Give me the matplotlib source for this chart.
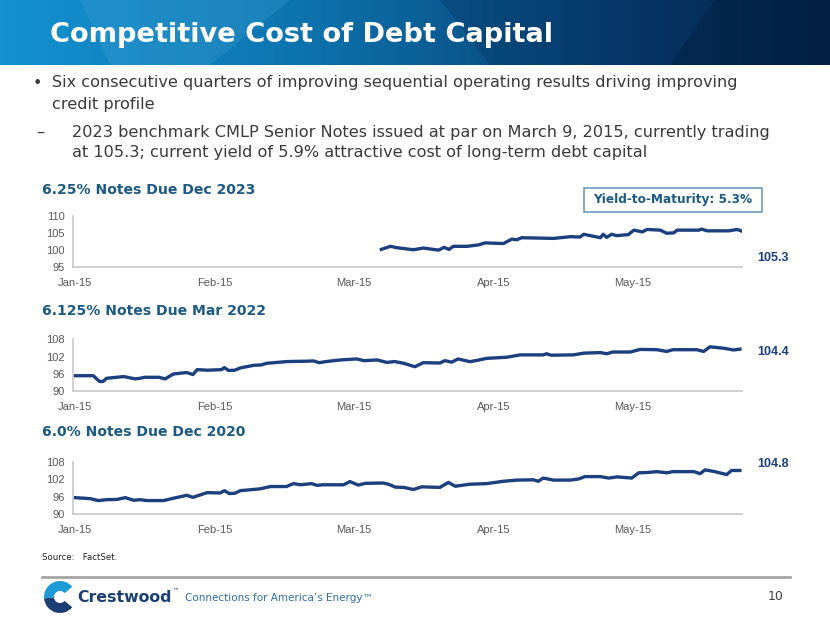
import numpy as np
import matplotlib
matplotlib.use("Agg")
import matplotlib.pyplot as plt
from matplotlib.patches import Rectangle, Wedge, Polygon

# x positions are trading-day counts from Jan 1, 2015 (20 per month on the axis)
month_labels = ["Jan-15", "Feb-15", "Mar-15", "Apr-15", "May-15"]
month_pos = [0, 20, 40, 60, 80]

# 6.25% Notes Due Dec 2023 (issued Mar 9)
x_2023 = [43.9, 45.2, 46.1, 48.5, 49.9, 52.1, 52.9, 53.6, 54.2, 56.2, 57.8, 58.8,
          61.4, 62.6, 63.3, 64.0, 68.6, 71.0, 72.4, 72.9, 74.1, 75.3, 75.7, 76.2,
          76.9, 77.6, 79.3, 80.1, 81.3, 82.0, 83.9, 84.8, 85.8, 86.3, 89.4, 89.8,
          90.6, 93.7, 94.9, 95.6]
y_2023 = [100.2, 101.1, 100.7, 100.1, 100.6, 100.0, 100.8, 100.2, 101.1, 101.1, 101.5, 102.1,
          101.9, 103.2, 103.0, 103.6, 103.4, 103.9, 103.8, 104.6, 104.1, 103.6, 104.6, 103.7,
          104.6, 104.2, 104.5, 105.8, 105.3, 106.0, 105.8, 104.9, 105.0, 105.8, 105.8, 106.1,
          105.6, 105.6, 106.0, 105.5]

# 6.125% Notes Due Mar 2022
x_2022 = [0, 2.6, 3.5, 4.0, 4.5, 7.0, 8.6, 9.3, 10.0, 12.0, 12.9, 14.1, 16.0, 16.9, 17.5,
          19.0, 21.0, 21.4, 22.0, 22.9, 23.7, 25.6, 26.6, 27.5, 30.4, 32.8, 34.2, 35.0,
          36.0, 38.0, 40.4, 41.4, 43.3, 44.7, 45.8, 47.1, 48.7, 49.9, 52.3, 53.0, 54.0,
          54.9, 56.6, 57.6, 59.0, 61.9, 63.8, 67.1, 67.6, 68.2, 71.4, 72.9, 75.3, 76.2,
          77.1, 79.6, 81.0, 83.4, 84.8, 85.7, 89.1, 90.1, 91.0, 93.0, 94.4, 95.3]
y_2022 = [95.4, 95.4, 93.4, 93.4, 94.5, 95.1, 94.3, 94.5, 94.85, 94.85, 94.3, 96.0, 96.5, 95.8, 97.5,
          97.3, 97.5, 98.2, 97.2, 97.3, 98.1, 99.0, 99.1, 99.7, 100.3, 100.4, 100.5, 99.9,
          100.3, 100.85, 101.2, 100.6, 100.85, 100.0, 100.3, 99.7, 98.5, 99.9, 99.8, 100.6, 100.1,
          101.2, 100.25, 100.7, 101.4, 101.8, 102.6, 102.6, 103.0, 102.5, 102.6, 103.2, 103.4, 103.0,
          103.6, 103.6, 104.5, 104.4, 103.8, 104.4, 104.4, 103.8, 105.4, 104.9, 104.3, 104.6]

# 6.0% Notes Due Dec 2020
x_2020 = [0, 2.2, 3.3, 4.5, 6.0, 7.2, 8.4, 9.3, 10.3, 12.7, 14.1, 16.0, 16.9, 18.9, 20.8,
          21.4, 22.1, 22.9, 23.7, 25.6, 26.5, 28.0, 30.3, 31.3, 32.3, 33.9, 34.7, 35.5,
          38.5, 39.4, 40.6, 41.6, 44.2, 44.9, 45.9, 47.1, 48.5, 49.7, 52.3, 53.5, 54.5,
          56.6, 59.0, 61.4, 63.3, 65.7, 66.4, 67.1, 68.6, 71.0, 72.2, 73.1, 75.3, 76.5,
          77.7, 79.8, 80.8, 82.0, 83.4, 84.8, 85.7, 88.7, 89.6, 90.3, 91.7, 93.4, 94.1, 95.3]
y_2020 = [95.7, 95.35, 94.7, 95.0, 95.1, 95.7, 94.8, 95.0, 94.7, 94.7, 95.5, 96.5, 95.8, 97.4, 97.3,
          98.1, 97.1, 97.2, 98.1, 98.5, 98.7, 99.5, 99.5, 100.5, 100.1, 100.5, 99.9, 100.1,
          100.1, 101.2, 100.0, 100.6, 100.7, 100.3, 99.3, 99.2, 98.5, 99.4, 99.2, 100.9, 99.6,
          100.3, 100.5, 101.3, 101.7, 101.8, 101.3, 102.4, 101.7, 101.7, 102.1, 102.9, 102.9, 102.4,
          102.8, 102.4, 104.2, 104.3, 104.6, 104.2, 104.6, 104.6, 103.9, 105.2, 104.6, 103.6, 105.0, 105.0]

charts = [
    ("6.25% Notes Due Dec 2023", x_2023, y_2023, (95, 110), [95, 100, 105, 110], "105.3"),
    ("6.125% Notes Due Mar 2022", x_2022, y_2022, (90, 108), [90, 96, 102, 108], "104.4"),
    ("6.0% Notes Due Dec 2020", x_2020, y_2020, (90, 108), [90, 96, 102, 108], "104.8"),
]

W, H = 830, 623
navy = "#1c3f7e"
title_blue = "#1d5a84"

fig = plt.figure(figsize=(8.3, 6.23), dpi=100)

# full-slide background axes in pixel coords
bg = fig.add_axes([0, 0, 1, 1])
bg.set_xlim(0, W)
bg.set_ylim(H, 0)
bg.axis("off")

# header band gradient
gx = np.linspace(0, 1, 400)
c0 = np.array([0.08, 0.57, 0.82])
c1 = np.array([0.05, 0.46, 0.69])
c2 = np.array([0.03, 0.24, 0.44])
c3 = np.array([0.03, 0.13, 0.28])
grad = np.zeros((1, 400, 3))
for i, t in enumerate(gx):
    if t < 0.35:
        c = c0 + (c1 - c0) * t / 0.35
    elif t < 0.75:
        c = c1 + (c2 - c1) * (t - 0.35) / 0.4
    else:
        c = c2 + (c3 - c2) * (t - 0.75) / 0.25
    grad[0, i] = c
bg.imshow(grad, extent=(0, W, 65, 0), aspect="auto", zorder=0)
bg.add_patch(Polygon([(80, 0), (290, 0), (210, 65), (110, 65)], closed=True,
                     color="#4aa6d8", alpha=0.25, lw=0, zorder=1))
bg.add_patch(Polygon([(440, 0), (830, 0), (830, 65), (490, 65)], closed=True,
                     color="#03264f", alpha=0.25, lw=0, zorder=1))
bg.add_patch(Polygon([(715, 0), (830, 0), (830, 65), (670, 65)], closed=True,
                     color="#021a38", alpha=0.35, lw=0, zorder=1))
bg.text(50, 35, "Competitive Cost of Debt Capital", color="white", fontsize=19.6,
        fontweight="bold", va="center", ha="left", family="DejaVu Sans", zorder=2)

# bullets
body = dict(color="#3a3a3a", fontsize=11.65, va="center", ha="left", family="DejaVu Sans")
bg.text(33, 83, "•", **body)
bg.text(52, 83, "Six consecutive quarters of improving sequential operating results driving improving", **body)
bg.text(52, 104, "credit profile", **body)
bg.text(36, 132, "–", **body)
bg.text(72, 132, "2023 benchmark CMLP Senior Notes issued at par on March 9, 2015, currently trading", **body)
bg.text(72, 152, "at 105.3; current yield of 5.9% attractive cost of long-term debt capital", **body)

# yield box
bg.add_patch(Rectangle((584, 188), 178, 24, fill=False, ec="#6f9bbb", lw=1.2))
bg.text(673, 200, "Yield-to-Maturity: 5.3%", color=title_blue, fontsize=8.7,
        fontweight="bold", ha="center", va="center", family="DejaVu Sans")

# chart panels: (top px, bottom px, title y px, end label y px)
panel_px = [(215.7, 267.3, 190, 258), (339.3, 391.3, 311, 352), (461.7, 514.3, 432, 464)]

for (title, xs, ys, ylim, yticks, last), (top, bot, ty, ly) in zip(charts, panel_px):
    bg.text(42, ty, title, color=title_blue, fontsize=10.1, fontweight="bold",
            ha="left", va="center", family="DejaVu Sans")
    bg.text(757, ly, last, color=navy, fontsize=9, fontweight="bold",
            ha="left", va="center", family="Liberation Sans")
    ax = fig.add_axes([73 / W, 1 - bot / H, (742 - 73) / W, (bot - top) / H])
    ax.plot(xs, ys, color=navy, lw=2.4, solid_joinstyle="round")
    ax.set_xlim(-0.3, 95.6)
    ax.set_ylim(*ylim)
    ax.set_yticks(yticks)
    ax.set_xticks(month_pos)
    ax.set_xticklabels(month_labels)
    ax.patch.set_alpha(0)
    for s in ["top", "right"]:
        ax.spines[s].set_visible(False)
    for s in ["left", "bottom"]:
        ax.spines[s].set_color("#c8c8c8")
        ax.spines[s].set_linewidth(1.2)
    ax.tick_params(length=0, labelsize=8, colors="#595959")
    ax.tick_params(axis="x", pad=8)
    ax.tick_params(axis="y", pad=6)
    for lab in ax.get_xticklabels() + ax.get_yticklabels():
        lab.set_family("Liberation Sans")

# footer
bg.text(42, 557, "Source:   FactSet.", color="#222222", fontsize=6.2, va="center",
        ha="left", family="DejaVu Sans")
bg.plot([42, 790], [577, 577], color="#a6a6a6", lw=2)
# y axis is inverted here, so angles run clockwise on screen
bg.add_patch(Wedge((60, 597), 16, 175, 320, width=10, color="#1e9ad6", lw=0))
bg.add_patch(Wedge((60, 597), 16, 40, 175, width=10, color="#1b3f73", lw=0))
bg.text(77, 598, "Crestwood", color="#1b3f73", fontsize=11.3, fontweight="bold",
        va="center", ha="left", family="DejaVu Sans")
bg.text(172, 591, "™", color="#1b3f73", fontsize=4.5, va="center", ha="left")
bg.text(185, 598, "Connections for America’s Energy™", color="#2e6da4", fontsize=7.5,
        va="center", ha="left", family="DejaVu Sans")
bg.text(776, 597, "10", color="#404040", fontsize=9, va="center", ha="center",
        family="DejaVu Sans")

fig.savefig("out.png", dpi=100)
